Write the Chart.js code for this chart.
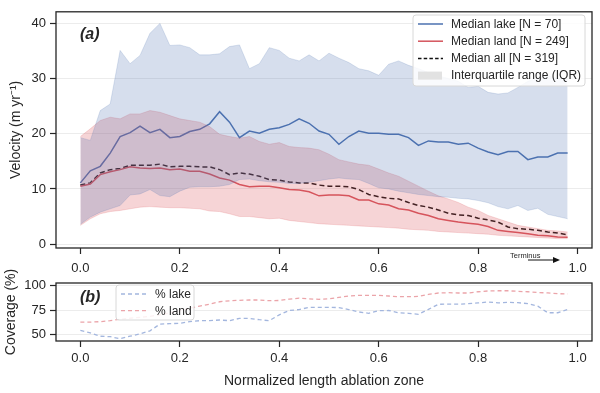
<!DOCTYPE html>
<html>
<head>
<meta charset="utf-8">
<script src="https://cdn.jsdelivr.net/npm/chart.js@4.4.0/dist/chart.umd.min.js"></script>
<style>
  body { margin: 0; background: #fff; width: 600px; height: 393px; overflow: hidden; position: relative; }
  canvas { position: absolute; left: 0; }
  #velocityChart { top: 0; }
  #coverageChart { top: 258px; }
</style>
</head>
<body>
<canvas id="velocityChart" width="600" height="276"></canvas>
<canvas id="coverageChart" width="600" height="135"></canvas>
<script>
// Normalized position along the ablation zone (one bin every 0.02)
const positions = [0.00, 0.02, 0.04, 0.06, 0.08, 0.10, 0.12, 0.14, 0.16, 0.18,
    0.20, 0.22, 0.24, 0.26, 0.28, 0.30, 0.32, 0.34, 0.36, 0.38,
    0.40, 0.42, 0.44, 0.46, 0.48, 0.50, 0.52, 0.54, 0.56, 0.58,
    0.60, 0.62, 0.64, 0.66, 0.68, 0.70, 0.72, 0.74, 0.76, 0.78,
    0.80, 0.82, 0.84, 0.86, 0.88, 0.90, 0.92, 0.94, 0.96, 0.98];

// Velocity (m/yr)
const lakeMedian = [11.1, 13.3, 14.1, 16.5, 19.5, 20.2, 21.4, 20.2, 20.8, 19.3,
    19.5, 20.4, 20.8, 21.8, 24.0, 22.1, 19.3, 20.5, 20.1, 20.8,
    21.1, 21.7, 22.7, 21.9, 20.5, 19.9, 18.1, 19.5, 20.5, 20.1,
    20.1, 19.9, 19.9, 19.3, 17.9, 18.7, 18.5, 18.5, 18.1, 18.3,
    17.4, 16.7, 16.2, 16.8, 16.8, 15.3, 15.8, 15.8, 16.5, 16.5];
const lakeQ1 = [3.6, 4.9, 5.8, 6.4, 7.0, 8.9, 9.1, 9.9, 8.8, 8.6,
    9.6, 10.3, 10.4, 10.4, 10.5, 10.8, 11.7, 11.8, 11.5, 11.3,
    11.2, 11.0, 11.0, 11.2, 11.5, 11.8, 12.0, 11.8, 11.7, 11.0,
    10.2, 10.0, 9.6, 9.3, 9.0, 8.8, 8.6, 8.5, 8.3, 8.2,
    7.9, 7.5, 6.8, 6.4, 7.0, 6.1, 6.5, 5.4, 5.0, 4.6];
const lakeQ3 = [19.3, 18.8, 24.2, 25.4, 35.1, 32.7, 34.2, 38.2, 40.0, 36.0,
    36.1, 35.6, 34.3, 34.3, 34.5, 35.8, 36.1, 31.8, 32.7, 35.6,
    35.1, 33.7, 33.2, 34.3, 33.2, 34.6, 33.7, 32.9, 31.8, 31.4,
    30.6, 32.6, 33.2, 32.4, 31.8, 31.1, 30.5, 30.0, 29.5, 28.4,
    28.6, 27.5, 27.2, 27.4, 28.4, 29.5, 30.0, 30.5, 30.0, 30.0];
const landMedian = [10.5, 10.9, 12.6, 13.1, 13.5, 14.0, 13.8, 13.7, 13.8, 13.5,
    13.6, 13.2, 13.2, 12.7, 12.0, 11.6, 10.8, 10.4, 10.5, 10.5,
    10.2, 9.9, 9.8, 9.5, 8.75, 8.9, 8.9, 8.75, 8.0, 8.0,
    7.3, 7.1, 6.4, 6.2, 5.6, 5.2, 4.6, 4.3, 4.0, 3.8,
    3.6, 3.2, 2.5, 2.3, 2.1, 1.9, 1.6, 1.5, 1.3, 1.25];
const landQ1 = [3.4, 4.6, 5.5, 5.9, 6.1, 6.4, 6.7, 6.8, 6.7, 6.6,
    6.6, 6.5, 6.4, 6.0, 5.9, 5.5, 5.0, 5.0, 4.8, 4.6,
    4.7, 4.3, 4.1, 3.9, 3.7, 3.6, 3.5, 3.4, 3.3, 3.2,
    3.1, 3.0, 2.9, 2.7, 2.6, 2.5, 2.3, 2.2, 2.1, 2.0,
    1.9, 1.8, 1.6, 1.5, 1.4, 1.3, 1.2, 1.1, 1.0, 1.0];
const landQ3 = [19.5, 20.9, 22.4, 23.0, 22.7, 23.6, 23.6, 24.2, 23.9, 23.3,
    22.7, 22.4, 22.1, 21.3, 19.9, 19.5, 19.2, 19.5, 18.6, 18.1,
    18.4, 17.7, 17.5, 17.4, 17.1, 16.3, 15.3, 14.9, 14.5, 14.3,
    13.6, 12.9, 12.3, 11.4, 10.5, 9.6, 8.75, 8.2, 7.55, 6.7,
    6.1, 5.2, 4.6, 4.0, 3.4, 3.1, 2.8, 2.5, 2.4, 2.2];
const allMedian = [10.7, 11.1, 12.9, 13.5, 13.7, 14.3, 14.3, 14.3, 14.5, 14.0,
    14.1, 14.1, 14.0, 14.0, 13.5, 12.6, 12.9, 12.7, 12.3, 11.7,
    11.6, 11.25, 11.1, 11.1, 10.7, 10.5, 10.5, 10.4, 9.9, 9.0,
    8.6, 8.3, 8.2, 7.55, 7.0, 6.7, 6.2, 5.6, 5.3, 5.2,
    4.7, 4.4, 4.0, 3.1, 2.8, 2.7, 2.5, 2.2, 2.0, 1.7];

// Coverage (%)
const lakeCoverage = [54, 51.5, 48, 47.5, 45.5, 48, 50.5, 53.5, 60.5, 61,
    61.3, 63, 64, 64, 64.7, 64, 66.4, 66.4, 65, 64,
    70, 74.5, 75.5, 77.7, 77.8, 77.8, 77.5, 75.5, 73, 71.6,
    74.3, 74.5, 72.2, 71.6, 70.6, 75.6, 80.9, 81, 81, 81.5,
    82.3, 83.3, 82.3, 83, 82.5, 81.6, 78.9, 72.2, 72.2, 75.6];
const landCoverage = [62.5, 62.5, 63, 64, 65.5, 66.5, 67.5, 68.5, 70, 72,
    74, 77, 79, 81, 83.5, 84.5, 85, 85.3, 85.3, 84.6,
    84.8, 86.2, 87.2, 86.5, 86, 86.5, 88, 89.5, 90, 90,
    90, 89.4, 88.7, 88.7, 89, 91, 92.5, 92.8, 92.5, 92.5,
    93.8, 94.6, 94.8, 94.8, 94.2, 93.8, 93, 92.6, 91.8, 91.5];

const xTicks = [0.0, 0.2, 0.4, 0.6, 0.8, 1.0];
const velocityTicks = [0, 10, 20, 30, 40];
const coverageTicks = [50, 75, 100];
const velocityLabels = ['Median lake [N = 70]', 'Median land [N = 249]', 'Median all [N = 319]', 'Interquartile range (IQR)'];
const coverageLabels = ['% lake', '% land'];

const FONT = "'Liberation Sans', Arial, sans-serif";
const INK = '#262626';
const LAKE = '#4c72b0';
const LAND = '#d4545c';
const LAKE_BAND = 'rgba(76,114,176,0.23)';
const LAND_BAND = 'rgba(221,84,92,0.25)';

Chart.defaults.font.family = FONT;
Chart.defaults.color = INK;

const pts = ys => ys.map((y, i) => ({ x: positions[i], y: y }));

const framePlugin = {
    id: 'frame',
    afterDatasetsDraw(chart) {
        const { ctx, chartArea: a } = chart;
        ctx.save();
        ctx.strokeStyle = INK;
        ctx.lineWidth = 1.3;
        ctx.strokeRect(a.left, a.top, a.right - a.left, a.bottom - a.top);
        ctx.restore();
    }
};

// legend box drawn inside the plot, like matplotlib's
function boxLegend(box, rows) {
    return {
        id: 'boxLegend',
        afterDraw(chart) {
            const ctx = chart.ctx;
            ctx.save();
            ctx.beginPath();
            ctx.roundRect(box.x, box.y, box.w, box.h, 3);
            ctx.fillStyle = 'rgba(255,255,255,0.85)';
            ctx.fill();
            ctx.strokeStyle = '#d8d8d8';
            ctx.lineWidth = 1;
            ctx.stroke();
            ctx.font = '12px ' + FONT;
            ctx.textBaseline = 'middle';
            rows.forEach((r, k) => {
                const y = box.y + box.first + k * box.gap;
                if (r.patch) {
                    ctx.fillStyle = r.color;
                    ctx.fillRect(box.x + 5, y - 4, 24, 8);
                } else {
                    ctx.strokeStyle = r.color;
                    ctx.lineWidth = r.width;
                    ctx.setLineDash(r.dash || []);
                    ctx.beginPath();
                    ctx.moveTo(box.x + 5, y);
                    ctx.lineTo(box.x + 30, y);
                    ctx.stroke();
                    ctx.setLineDash([]);
                }
                ctx.fillStyle = INK;
                ctx.fillText(r.label, box.x + box.text, y + 0.5);
            });
            ctx.restore();
        }
    };
}

function panelText(tag, tagY, extra) {
    return {
        id: 'panelText',
        afterDraw(chart) {
            const ctx = chart.ctx;
            ctx.save();
            ctx.fillStyle = INK;
            ctx.font = 'italic bold 16px ' + FONT;
            ctx.textBaseline = 'middle';
            ctx.fillText(tag, 80, tagY);
            if (extra) extra(ctx);
            ctx.restore();
        }
    };
}

function terminusArrow(ctx) {
    ctx.font = '7.5px ' + FONT;
    ctx.textBaseline = 'middle';
    ctx.fillText('Terminus', 510, 256);
    ctx.strokeStyle = '#111';
    ctx.lineWidth = 1;
    ctx.beginPath();
    ctx.moveTo(528, 260);
    ctx.lineTo(554, 260);
    ctx.stroke();
    ctx.fillStyle = '#111';
    ctx.beginPath();
    ctx.moveTo(560, 260);
    ctx.lineTo(553, 257);
    ctx.lineTo(553, 263);
    ctx.closePath();
    ctx.fill();
}

function xScale(withTitle) {
    return {
        type: 'linear',
        min: -0.049,
        max: 1.029,
        afterBuildTicks: s => { s.ticks = xTicks.map(v => ({ value: v })); },
        afterFit: s => { s.height = withTitle ? 52 : 28; },
        grid: { drawOnChartArea: false, tickLength: 6, tickColor: INK, tickWidth: 1.2 },
        border: { display: false },
        ticks: { padding: withTitle ? 4 : 7, font: { size: 13 }, color: INK, callback: v => v.toFixed(1) },
        title: {
            display: withTitle,
            text: 'Normalized length ablation zone',
            font: { size: 14 },
            color: INK,
            padding: { top: 0, bottom: 3.6 }
        }
    };
}

function yScale(min, max, ticks, title, titlePad) {
    return {
        min: min,
        max: max,
        afterBuildTicks: s => { s.ticks = ticks.map(v => ({ value: v })); },
        afterFit: s => { s.width = 56; },
        grid: { color: '#ececec', lineWidth: 1, tickLength: 6, tickColor: INK, tickWidth: 1.2 },
        border: { display: false },
        ticks: { padding: 4, font: { size: 13 }, color: INK },
        title: { display: true, text: title, font: { size: 14 }, color: INK, padding: { top: titlePad, bottom: 0 } }
    };
}

const bandStyle = color => ({ borderColor: color, borderWidth: 0.8, backgroundColor: color, pointRadius: 0 });

new Chart(document.getElementById('velocityChart'), {
    type: 'line',
    data: {
        datasets: [
            { ...bandStyle(LAKE_BAND), data: pts(lakeQ3), fill: '+1' },
            { ...bandStyle(LAKE_BAND), data: pts(lakeQ1), fill: false },
            { ...bandStyle(LAND_BAND), data: pts(landQ3), fill: '+1' },
            { ...bandStyle(LAND_BAND), data: pts(landQ1), fill: false },
            { label: velocityLabels[0], data: pts(lakeMedian), borderColor: LAKE, borderWidth: 1.5, pointRadius: 0, fill: false },
            { label: velocityLabels[1], data: pts(landMedian), borderColor: LAND, borderWidth: 1.5, pointRadius: 0, fill: false },
            { label: velocityLabels[2], data: pts(allMedian), borderColor: '#111', borderWidth: 1.5, borderDash: [5, 3], pointRadius: 0, fill: false }
        ]
    },
    options: {
        responsive: false,
        animation: false,
        devicePixelRatio: 1,
        layout: { padding: { top: 8, right: 8, left: 0, bottom: 0 } },
        plugins: { legend: { display: false }, tooltip: { enabled: false } },
        scales: {
            x: xScale(false),
            y: yScale(-0.7, 42.1, velocityTicks, 'Velocity (m yr\u207B\u00B9)', 7.6)
        }
    },
    plugins: [
        framePlugin,
        boxLegend({ x: 413, y: 15, w: 172, h: 71, first: 9, gap: 17.2, text: 38 }, [
            { label: velocityLabels[0], color: LAKE, width: 1.5 },
            { label: velocityLabels[1], color: LAND, width: 1.5 },
            { label: velocityLabels[2], color: '#111', width: 1.5, dash: [3.5, 2.2] },
            { label: velocityLabels[3], color: '#e2e2e2', patch: true }
        ]),
        panelText('(a)', 35, terminusArrow)
    ]
});

new Chart(document.getElementById('coverageChart'), {
    type: 'line',
    data: {
        datasets: [
            { label: coverageLabels[0], data: pts(lakeCoverage), borderColor: '#a3b6de', borderWidth: 1.3, borderDash: [4, 3], pointRadius: 0, fill: false },
            { label: coverageLabels[1], data: pts(landCoverage), borderColor: '#eba4a9', borderWidth: 1.3, borderDash: [4, 3], pointRadius: 0, fill: false }
        ]
    },
    options: {
        responsive: false,
        animation: false,
        devicePixelRatio: 1,
        layout: { padding: { top: 25, right: 8, left: 0, bottom: 0 } },
        plugins: { legend: { display: false }, tooltip: { enabled: false } },
        scales: {
            x: xScale(true),
            y: yScale(43.1, 102.8, coverageTicks, 'Coverage (%)', 2.6)
        }
    },
    plugins: [
        framePlugin,
        boxLegend({ x: 116, y: 27, w: 78, h: 35, first: 9, gap: 16.7, text: 39 }, [
            { label: coverageLabels[0], color: '#a3b6de', width: 1.3, dash: [4, 3] },
            { label: coverageLabels[1], color: '#eba4a9', width: 1.3, dash: [4, 3] }
        ]),
        panelText('(b)', 40)
    ]
});
</script>
</body>
</html>
